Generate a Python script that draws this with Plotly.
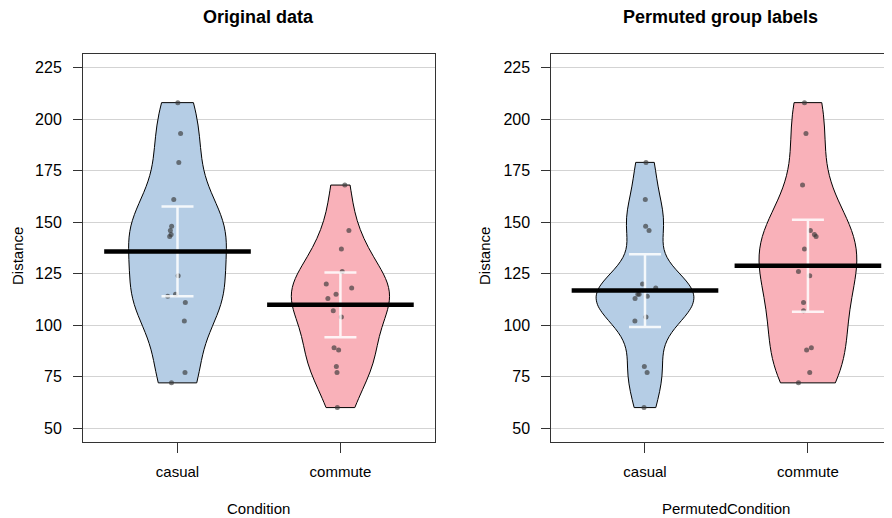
import numpy as np
import plotly.graph_objects as go

# ---- data ----
categories = ["casual", "commute"]
cat_pos = [1, 2]

orig_casual = [208, 193, 179, 161, 148, 146, 144, 143, 124, 115, 114, 111, 102, 77, 72]
orig_casual_jitter = [0.002, 0.019, 0.008, -0.023, -0.036, -0.044, -0.039, -0.048, 0.004,
                      -0.012, -0.06, 0.048, 0.042, 0.046, -0.037]
orig_commute = [168, 146, 137, 126, 120, 118, 115, 113, 107, 104, 89, 88, 80, 77, 60]
orig_commute_jitter = [0.027, 0.052, 0.006, 0.011, -0.087, 0.069, -0.027, -0.077, -0.044,
                       0.006, -0.039, -0.011, -0.025, -0.021, -0.019]

perm_casual = [179, 161, 148, 146, 120, 118, 115, 115, 114, 113, 104, 102, 80, 77, 60]
perm_casual_jitter = [0.006, 0.002, 0.004, 0.025, -0.015, 0.066, -0.036, -0.044, 0.014,
                      -0.061, 0.006, -0.062, -0.004, 0.013, -0.006]
perm_commute = [208, 193, 168, 146, 144, 143, 137, 126, 124, 111, 107, 89, 88, 77, 72]
perm_commute_jitter = [-0.021, -0.012, -0.033, 0.015, 0.04, 0.05, -0.021, -0.058, 0.011,
                       -0.027, -0.027, 0.021, -0.008, 0.011, -0.058]

y_ticks = [50, 75, 100, 125, 150, 175, 200, 225]

FILL = {"casual": "#B5CDE5", "commute": "#F9B1B9"}
T975_DF14 = 2.145


def bw_nrd0(v):
    v = np.asarray(v, float)
    iqr = np.subtract(*np.percentile(v, [75, 25]))
    return 0.9 * min(v.std(ddof=1), iqr / 1.34) * len(v) ** -0.2


fig = go.Figure()

panels = [
    ("x", "y", [(orig_casual, orig_casual_jitter), (orig_commute, orig_commute_jitter)]),
    ("x2", "y2", [(perm_casual, perm_casual_jitter), (perm_commute, perm_commute_jitter)]),
]

for xa, ya, groups in panels:
    for cat, pos, (vals, jit) in zip(categories, cat_pos, groups):
        vals = np.asarray(vals, float)
        fig.add_trace(go.Violin(
            y=vals, x0=pos, xaxis=xa, yaxis=ya, width=0.6, scalemode="width",
            spanmode="hard", bandwidth=bw_nrd0(vals), points=False,
            fillcolor=FILL[cat], opacity=1, line=dict(color="black", width=1),
            box_visible=False, meanline_visible=False, hoverinfo="skip",
            showlegend=False))
        fig.add_trace(go.Scatter(
            x=[pos + j for j in jit], y=vals, mode="markers", xaxis=xa, yaxis=ya,
            marker=dict(size=5, color="rgba(55,55,55,0.65)"), showlegend=False,
            hoverinfo="skip"))
        m = vals.mean()
        ci = T975_DF14 * vals.std(ddof=1) / np.sqrt(len(vals))
        fig.add_trace(go.Scatter(
            x=[pos], y=[m], mode="markers", xaxis=xa, yaxis=ya,
            marker=dict(size=1, color="rgba(0,0,0,0)"),
            error_y=dict(type="data", array=[ci], color="rgba(255,255,255,0.85)",
                         thickness=2.5, width=16),
            showlegend=False, hoverinfo="skip"))
        fig.add_trace(go.Scatter(
            x=[pos - 0.45, pos + 0.45], y=[m, m], mode="lines", xaxis=xa, yaxis=ya,
            line=dict(color="black", width=4.5), showlegend=False, hoverinfo="skip"))

# page body has an 8px margin: work in page pixels, shifted by OFF
OFF = 8
W, H = 892 - OFF, 518 - OFF
ML, MT, MB = 83 - OFF, 54 - OFF, 518 - 442
PW = W - ML
PH = H - MT - MB


def px_x(p):
    return (p - OFF - ML) / PW


def px_y(p):
    return (MT + PH - (p - OFF)) / PH


FAM = "Liberation Sans, Arial, sans-serif"
font = dict(family=FAM, size=15, color="black")
xcommon = dict(tickvals=cat_pos, ticktext=categories, showgrid=False, zeroline=False,
               ticks="outside", ticklen=10, tickcolor="#333", showline=True,
               linecolor="#333", linewidth=1, mirror=True, tickfont=font,
               ticklabelstandoff=6, automargin=False)
ycommon = dict(tickvals=y_ticks, range=[43.3, 231.6], showgrid=True, gridcolor="#D3D3D3",
               gridwidth=1, zeroline=False, ticks="outside", ticklen=9, tickcolor="#333",
               showline=True, linecolor="#333", linewidth=1,
               tickfont=dict(family=FAM, size=16, color="black"),
               ticklabelstandoff=8, automargin=False)

ann = dict(xref="paper", yref="paper", showarrow=False, xanchor="center", yanchor="middle")
fig.update_layout(
    width=W, height=H, margin=dict(l=ML, r=0, t=MT, b=MB, autoexpand=False),
    paper_bgcolor="white", plot_bgcolor="white", violinmode="overlay",
    font=font,
    xaxis=dict(domain=[0, 351.6 / PW], range=[0.42, 2.578], anchor="y", **xcommon),
    yaxis=dict(domain=[0, 1], anchor="x", mirror=True, **ycommon),
    xaxis2=dict(domain=[(551.3 - 83) / PW, 1], range=[0.425, 2.516], anchor="y2", **xcommon),
    yaxis2=dict(domain=[0, 1], anchor="x2", mirror=False, **ycommon),
    annotations=[
        dict(text="<b>Original data</b>", x=px_x(258), y=px_y(17),
             font=dict(size=18, family=FAM, color="black"), **ann),
        dict(text="<b>Permuted group labels</b>", x=px_x(720), y=px_y(17),
             font=dict(size=18, family=FAM, color="black"), **ann),
        dict(text="Distance", x=px_x(18), y=px_y(256), textangle=-90,
             font=dict(size=15, family=FAM, color="black"), **ann),
        dict(text="Distance", x=px_x(485), y=px_y(256), textangle=-90,
             font=dict(size=15, family=FAM, color="black"), **ann),
        dict(text="Condition", x=px_x(258), y=px_y(508), font=font, **ann),
        dict(text="PermutedCondition", x=px_x(726), y=px_y(508), font=font, **ann),
    ],
)

fig.write_html("out.html")
